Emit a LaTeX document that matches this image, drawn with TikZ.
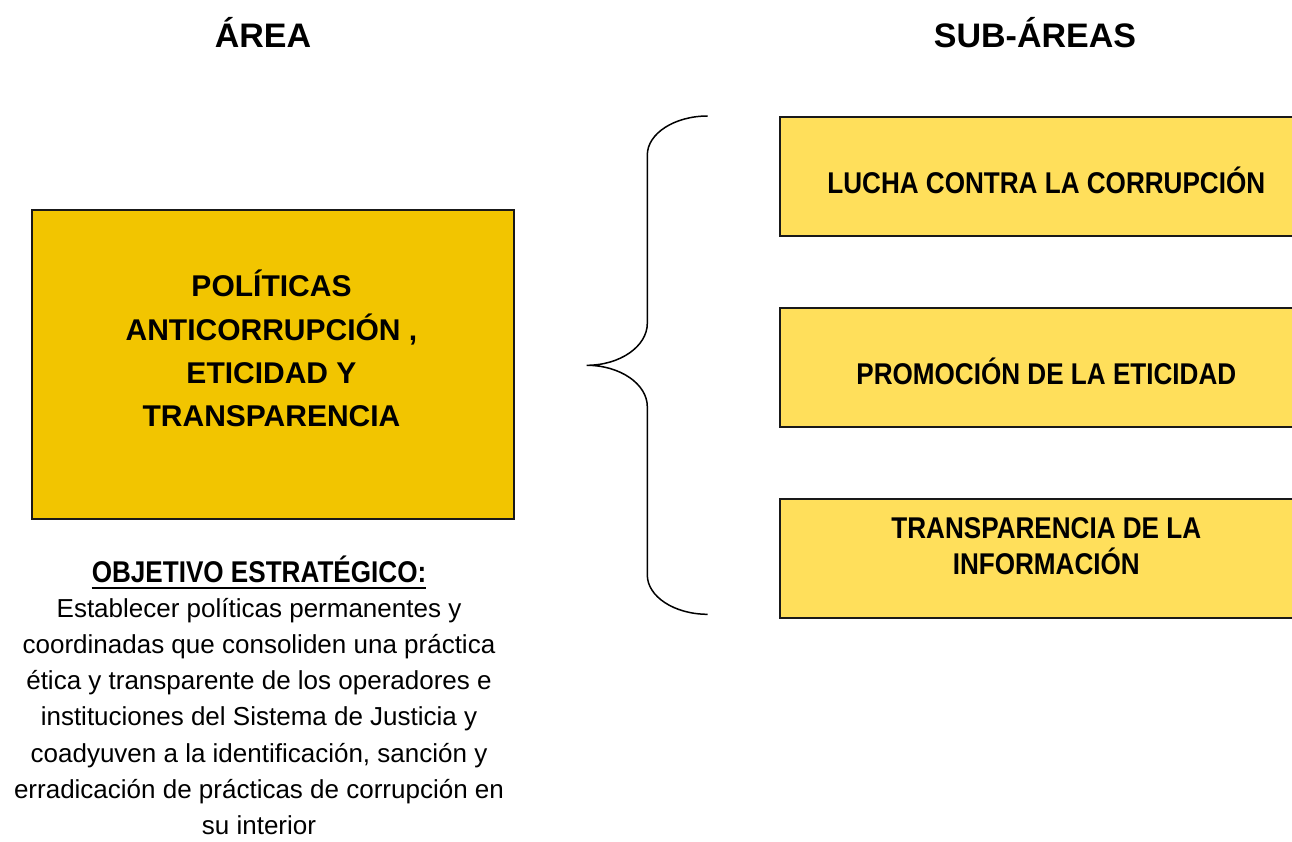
\documentclass[tikz,border=0pt]{standalone}
\usepackage{fontspec}
\setmainfont{Liberation Sans}
\newfontfamily\narrowfont[FakeStretch=0.87]{Liberation Sans}
\usetikzlibrary{positioning,calc}

\definecolor{areagold}{HTML}{F2C500}
\definecolor{subgold}{HTML}{FFDF5B}

\begin{document}
\begin{tikzpicture}[x=1pt,y=-1pt,node distance=70.5pt,
                    box/.style={draw=black!90,line width=1.6pt,inner sep=0pt},
                    areabox/.style={box,fill=areagold,minimum width=482pt,minimum height=309pt},
                    subbox/.style={box,fill=subgold,minimum width=532.4pt,minimum height=119pt},
                    heading/.style={font=\fontsize{34}{40}\selectfont\bfseries,anchor=base,inner sep=0pt},
                    areatext/.style={font=\fontsize{30}{43.3}\selectfont\bfseries,align=center,anchor=base,inner sep=0pt},
                    subtext/.style={font=\narrowfont\fontsize{30}{35.7}\selectfont\bfseries,align=center,anchor=base,inner sep=0pt},
                    bodytext/.style={font=\fontsize{26}{36.3}\selectfont,align=center,anchor=base,inner sep=0pt},
                    brace/.style={draw=black,line width=1.5pt}]
  \useasboundingbox[fill=white] (0,0) rectangle (1292,842);

  % headings
  \node[heading] (areahead) at (263,48) {ÁREA};
  \node[heading] (subhead) at (1035,48) {SUB-ÁREAS};

  % area and its objective (multi-line nodes sit on their last line)
  \node[areabox] (area) at (273,364.5) {};
  \node[areatext] (areaname) at (271.5,426.7) {POLÍTICAS\\ANTICORRUPCIÓN ,\\ETICIDAD Y\\TRANSPARENCIA};
  \node[subtext] (objetivo) at (259,582) {OBJETIVO ESTRATÉGICO:};
  \draw[line width=2pt] ([yshift=-5.6pt]objetivo.base west) -- ([yshift=-5.6pt]objetivo.base east);
  \node[bodytext] (texto) at (259,834.8) {Establecer políticas permanentes y\\coordinadas que consoliden una práctica\\ética y transparente de los operadores e\\instituciones del Sistema de Justicia y\\coadyuven a la identificación, sanción y\\erradicación de prácticas de corrupción en\\su interior};

  % brace
  \coordinate (btop) at (707.7,116);
  \coordinate (btip) at (586.7,365.3);
  \coordinate (bbot) at (707.7,614.3);
  \draw[brace] (btop) .. controls (674.5,116) and (647.3,133.5) .. (647.3,155)
        -- (647.3,323.3) .. controls (647.3,346.4) and (620,365.3) .. (btip)
        .. controls (620,365.3) and (647.3,384) .. (647.3,406.7)
        -- (647.3,575) .. controls (647.3,596.6) and (674.5,614.3) .. (bbot);

  % sub-areas
  \node[subbox,anchor=north west] (sub1) at (779.3,116) {};
  \node[subbox] (sub2) [below=of sub1] {};
  \node[subbox] (sub3) [below=of sub2] {};
  \node[subtext] (lucha) at ([yshift=-77.3pt]sub1.north) {LUCHA CONTRA LA CORRUPCIÓN};
  \node[subtext] (promo) at ([yshift=-77.3pt]sub2.north) {PROMOCIÓN DE LA ETICIDAD};
  \node[subtext] (transp) at ([yshift=-76.4pt]sub3.north) {TRANSPARENCIA DE LA\\INFORMACIÓN};
\end{tikzpicture}
\end{document}
